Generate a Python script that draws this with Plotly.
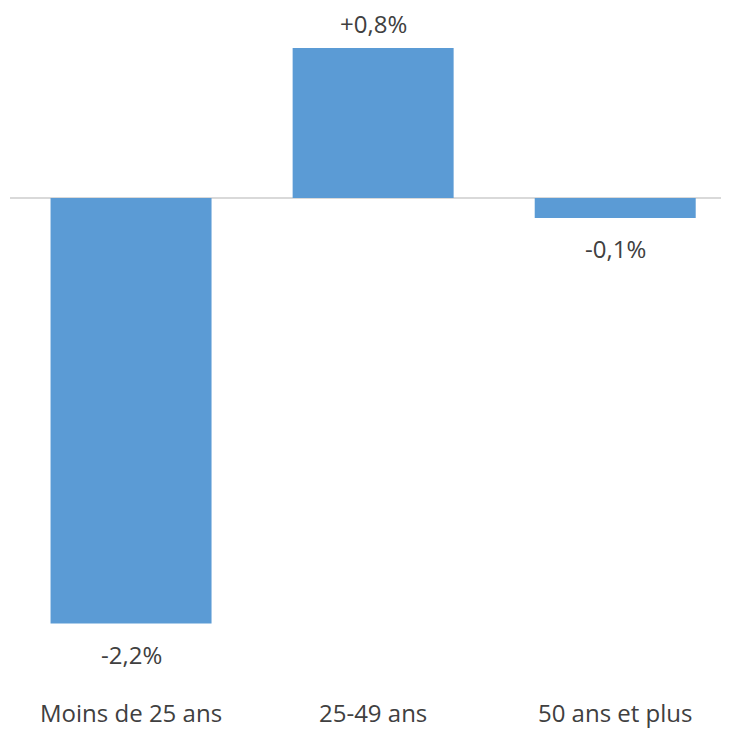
import plotly.graph_objects as go

categories = ["Moins de 25 ans", "25-49 ans", "50 ans et plus"]
values = [-2.24, 0.79, -0.105]
value_labels = ["-2,2%", "+0,8%", "-0,1%"]

BAR_COLOR = "#5B9BD5"
TEXT_COLOR = "#404040"
FONT = "Open Sans"

# the page body has an 8px margin; size the figure to fit the window
W, H = 721, 722
plot_top, plot_bottom = 0, 689
zero_px = 190
px_per_unit = 190.0
y_top = (zero_px - plot_top) / px_per_unit
y_bottom = -(plot_bottom - zero_px) / px_per_unit

fig = go.Figure()
fig.add_trace(go.Bar(
    x=categories, y=values,
    marker=dict(color=BAR_COLOR, line=dict(width=0)),
    width=0.665,
    hoverinfo="skip",
))

for c, v, t in zip(categories, values, value_labels):
    fig.add_annotation(
        x=c, y=v, text=t, showarrow=False,
        yanchor="middle", xanchor="center",
        yshift=24 if v >= 0 else -31,
        font=dict(family=FONT, size=24, color=TEXT_COLOR),
    )

fig.update_layout(
    width=W, height=H,
    margin=dict(l=2, r=0, t=plot_top, b=H - plot_bottom, pad=0),
    paper_bgcolor="white", plot_bgcolor="white",
    showlegend=False,
    font=dict(family=FONT, size=24, color=TEXT_COLOR),
    xaxis=dict(
        range=[-0.5, 2.47], showgrid=False, showline=False, ticks="",
        tickfont=dict(family=FONT, size=24, color=TEXT_COLOR),
        automargin=False, fixedrange=True,
    ),
    yaxis=dict(
        range=[y_bottom, y_top], showgrid=False, showticklabels=False,
        zeroline=True, zerolinecolor="#D9D9D9", zerolinewidth=2,
        showline=False, ticks="", automargin=False, fixedrange=True,
    ),
)

fig.write_html("out.html")
